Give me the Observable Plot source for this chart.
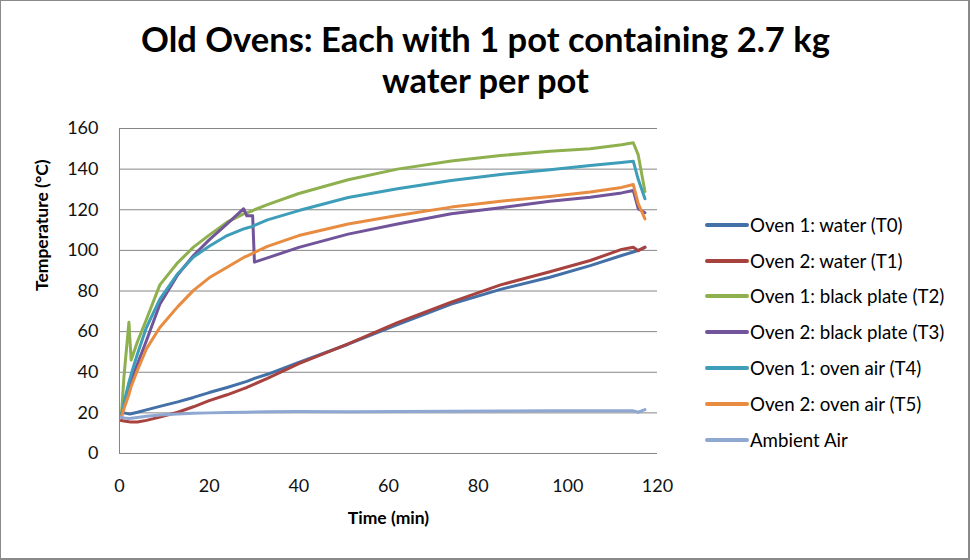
<!DOCTYPE html>
<html>
<head>
<meta charset="utf-8">
<script src="https://cdn.jsdelivr.net/npm/d3@7"></script>
<script src="https://cdn.jsdelivr.net/npm/@observablehq/plot@0.6"></script>
<style>
  body { margin: 0; background: #fff; }
  #wrap { position: relative; width: 971px; height: 560px; background: #fff; overflow: hidden; font-family: Lato, "Open Sans", sans-serif; }
  #frame { position: absolute; left: 0; top: 0; width: 970px; height: 560px; box-sizing: border-box; border: 1px solid #8a8a8a; border-right-width: 2px; border-bottom-width: 2px; pointer-events: none; }
  #title { position: absolute; left: 0; top: 18px; width: 971px; text-align: center; font: bold 34.5px Lato, sans-serif; line-height: 41px; color: #000; }
  #plot { position: absolute; left: 0; top: 0; }
  #legend { position: absolute; left: 705px; top: 207px; }
  .row { display: flex; align-items: center; height: 35.8px; font: 18.7px Lato, sans-serif; color: #000; }
  .row svg { margin-right: 1px; }
</style>
</head>
<body>
<div id="wrap">
  <div id="plot"></div>
  <div id="title">Old Ovens: Each with 1 pot containing 2.7 kg<br>water per pot</div>
  <div id="legend"></div>
  <div id="frame"></div>
</div>
<script>
// ---- data ----
const times = [0.4, 1, 2.1, 2.6, 4, 6, 9, 13, 16.5, 20, 24, 27.7, 28.4, 29.7, 30.1, 33, 40, 51, 62, 74, 85, 96, 105, 112, 114.6, 115.7, 117.2];

const oven1Water = [20.3, 20, 19.5, 19.6, 20.3, 21.5, 23.2, 25.4, 27.6, 30, 32.5, 35, 35.5, 36.6, 37, 39, 44.9, 53.8, 63.4, 73.6, 80.8, 86.8, 92.5, 97.5, 99.2, 100, 101.5];
const oven2Water = [16.2, 16, 15.6, 15.5, 15.5, 16.3, 17.9, 20.3, 23, 26, 28.9, 31.9, 32.5, 33.8, 34.2, 37, 44.2, 54, 64.4, 74.5, 83, 89.5, 95, 100.5, 101.5, 99.8, 101.6];
const oven1Plate = [18, 38, 64.6, 46, 55, 66, 83, 94, 101.6, 107.5, 113.9, 118, 118.5, 119.5, 120, 122.5, 128, 134.8, 140, 144, 146.7, 148.8, 150, 152, 153, 147, 129];
const oven2Plate = [18, 24, 32, 36, 44, 55.5, 73.5, 88, 97.5, 105.2, 113.1, 120.5, 117, 117, 94.2, 96.3, 101.5, 108, 113, 118, 121, 124.2, 126.2, 128.3, 129.5, 120.5, 118.5];
const oven1Air = [18, 25, 35, 39, 49, 62, 76, 88.5, 96.7, 102, 107.3, 110.6, 111, 111.8, 112.3, 115, 119.6, 126, 130.3, 134.4, 137.4, 139.7, 141.8, 143.3, 143.9, 135, 125.4];
const oven2Air = [18, 22, 29, 33, 41, 51.5, 62, 72.3, 80.3, 86.5, 91.7, 96.5, 97.2, 98.5, 99, 102, 107.3, 113, 117.2, 121.3, 124.2, 126.5, 128.7, 131, 132.4, 123, 115.5];
const ambientAir = [18, 17.5, 17.2, 17.3, 17.7, 18.3, 19, 19.5, 19.8, 20, 20.2, 20.3, 20.3, 20.4, 20.4, 20.5, 20.7, 20.6, 20.7, 20.8, 20.9, 21, 21, 21, 21, 20.3, 21.6];

const seriesNames = [
  "Oven 1: water (T0)",
  "Oven 2: water (T1)",
  "Oven 1: black plate (T2)",
  "Oven 2: black plate (T3)",
  "Oven 1: oven air (T4)",
  "Oven 2: oven air (T5)",
  "Ambient Air"
];
const seriesValues = [oven1Water, oven2Water, oven1Plate, oven2Plate, oven1Air, oven2Air, ambientAir];
const seriesColors = ["#4470A8", "#A8423F", "#8FB04F", "#71549A", "#3E9DB8", "#E88C42", "#8FA8D2"];

const xTicks = [0, 20, 40, 60, 80, 100, 120];
const yTicks = [0, 20, 40, 60, 80, 100, 120, 140, 160];

// ---- build long table ----
const rows = [];
seriesNames.forEach((name, i) => {
  times.forEach((t, j) => rows.push({series: name, t, v: seriesValues[i][j]}));
});

const gridColor = "#868686";

const chart = Plot.plot({
  width: 971,
  height: 560,
  marginLeft: 119,
  marginRight: 314,
  marginTop: 128,
  marginBottom: 107,
  style: {fontFamily: "Lato, sans-serif", fontSize: "18px", color: "#111", background: "transparent"},
  x: {domain: [0, 120], ticks: xTicks},
  y: {domain: [0, 160], ticks: yTicks},
  color: {domain: seriesNames, range: seriesColors},
  marks: [
    Plot.gridY(yTicks, {stroke: gridColor, strokeOpacity: 1, strokeWidth: 1}),
    Plot.ruleX([0], {stroke: gridColor, strokeWidth: 1}),
    Plot.axisX(xTicks, {tickSize: 0, tickPadding: 26, label: null, fontSize: 18}),
    Plot.axisY(yTicks, {tickSize: 0, tickPadding: 21, label: null, fontSize: 18}),
    Plot.line(rows, {x: "t", y: "v", z: "series", stroke: "series", strokeWidth: 3, strokeLinejoin: "round", strokeLinecap: "round"}),
    Plot.text(["Temperature (°C)"], {text: d => d, frameAnchor: "left", dx: -77, rotate: -90, fontWeight: "bold", fontSize: 17.5, fill: "#000"}),
    Plot.text(["Time (min)"], {text: d => d, frameAnchor: "bottom", dy: 70, fontWeight: "bold", fontSize: 17.5, fill: "#000"})
  ]
});
document.getElementById("plot").appendChild(chart);

// ---- legend ----
const legend = d3.select("#legend");
seriesNames.forEach((name, i) => {
  const row = legend.append("div").attr("class", "row");
  const sw = row.append("svg").attr("width", 44).attr("height", 8);
  sw.append("line").attr("x1", 2).attr("x2", 42).attr("y1", 4).attr("y2", 4)
    .attr("stroke", seriesColors[i]).attr("stroke-width", 4).attr("stroke-linecap", "round");
  row.append("span").text(name);
});
</script>
</body>
</html>
